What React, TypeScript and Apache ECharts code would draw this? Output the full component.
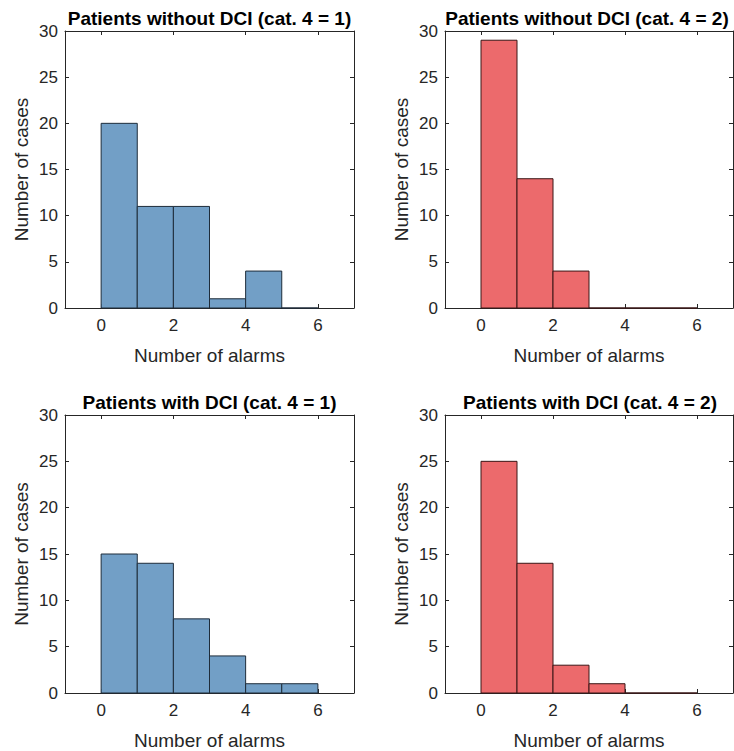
import React, { useEffect, useRef } from "react";
import * as echarts from "echarts";

const binEdges = [0, 1, 2, 3, 4, 5, 6];
const withoutDci1 = [20, 11, 11, 1, 4, 0];
const withoutDci2 = [29, 14, 4, 0, 0, 0];
const withDci1 = [15, 14, 8, 4, 1, 1];
const withDci2 = [25, 14, 3, 1, 0, 0];
const xTickValues = [0, 2, 4, 6];
const panelTitles = [
  "Patients without DCI (cat. 4 = 1)",
  "Patients without DCI (cat. 4 = 2)",
  "Patients with DCI (cat. 4 = 1)",
  "Patients with DCI (cat. 4 = 2)",
];
const xLabel = "Number of alarms";
const yLabel = "Number of cases";

const BLUE = "#729fc6";
const RED = "#ec6a6c";
const AXIS = "#262626";
const FONT = "'Liberation Sans', Arial, Helvetica, sans-serif";

const panels = [
  { counts: withoutDci1, color: BLUE, edge: "#1e2c3a", titleShift: 0, grid: { left: 65, top: 31, width: 289, height: 277 } },
  { counts: withoutDci2, color: RED, edge: "#3a1616", titleShift: -2, grid: { left: 445, top: 31, width: 288, height: 277 } },
  { counts: withDci1, color: BLUE, edge: "#1e2c3a", titleShift: 0, grid: { left: 65, top: 415, width: 289, height: 279 } },
  { counts: withDci2, color: RED, edge: "#3a1616", titleShift: 1, grid: { left: 445, top: 415, width: 288, height: 279 } },
];

export default function App() {
  const ref = useRef<HTMLDivElement>(null);
  useEffect(() => {
    if (!ref.current) return;
    const chart = echarts.init(ref.current, undefined, { renderer: "svg" });
    const grids: any[] = [];
    const xAxes: any[] = [];
    const yAxes: any[] = [];
    const series: any[] = [];
    const titles: any[] = [];
    panels.forEach((p, i) => {
      grids.push({ ...p.grid, show: false });
      const cx = p.grid.left + p.grid.width / 2 + p.titleShift;
      titles.push({
        text: panelTitles[i],
        left: cx,
        textAlign: "center",
        top: i < 2 ? 9 : 393,
        padding: 0,
        textStyle: { fontSize: 19, fontWeight: "bold", color: "#000", fontFamily: FONT },
      });
      const tickStyle = { show: true, inside: true, length: 4, lineStyle: { color: AXIS, width: 1 } };
      xAxes.push({
        type: "value",
        gridIndex: i,
        position: "bottom",
        min: -1,
        max: 7,
        axisLine: { show: true, onZero: false, lineStyle: { color: AXIS, width: 1 } },
        axisTick: { ...tickStyle, customValues: xTickValues },
        axisLabel: { customValues: xTickValues, fontSize: 17, color: AXIS, margin: 9, fontFamily: FONT },
        splitLine: { show: false },
        name: xLabel,
        nameLocation: "middle",
        nameGap: 38,
        nameTextStyle: { fontSize: 19, color: AXIS, fontFamily: FONT },
      });
      xAxes.push({
        type: "value",
        gridIndex: i,
        position: "top",
        min: -1,
        max: 7,
        axisLine: { show: true, onZero: false, lineStyle: { color: AXIS, width: 1 } },
        axisTick: { ...tickStyle, customValues: xTickValues },
        axisLabel: { show: false },
        splitLine: { show: false },
      });
      yAxes.push({
        type: "value",
        gridIndex: i,
        position: "left",
        min: 0,
        max: 30,
        interval: 5,
        axisLine: { show: true, onZero: false, lineStyle: { color: AXIS, width: 1 } },
        axisTick: tickStyle,
        axisLabel: { fontSize: 17, color: AXIS, margin: 7, fontFamily: FONT },
        splitLine: { show: false },
        name: yLabel,
        nameLocation: "middle",
        nameGap: 34,
        nameTextStyle: { fontSize: 19, color: AXIS, fontFamily: FONT },
      });
      yAxes.push({
        type: "value",
        gridIndex: i,
        position: "right",
        min: 0,
        max: 30,
        interval: 5,
        axisLine: { show: true, onZero: false, lineStyle: { color: AXIS, width: 1 } },
        axisTick: tickStyle,
        axisLabel: { show: false },
        splitLine: { show: false },
      });
      const data = p.counts.map((c, k) => [binEdges[k], binEdges[k + 1], c]);
      series.push({
        type: "custom",
        xAxisIndex: i * 2,
        yAxisIndex: i * 2,
        data,
        encode: { x: [0, 1], y: 2 },
        renderItem: (_params: any, api: any) => {
          const x0 = api.value(0);
          const x1 = api.value(1);
          const y = api.value(2);
          const a = api.coord([x0, y]);
          const b = api.coord([x1, 0]);
          return {
            type: "rect",
            shape: { x: a[0], y: a[1], width: b[0] - a[0], height: b[1] - a[1] },
            style: { fill: p.color, stroke: p.edge, lineWidth: 1 },
          };
        },
      });
    });
    chart.setOption({
      animation: false,
      backgroundColor: "#fff",
      textStyle: { fontFamily: FONT },
      title: titles,
      grid: grids,
      xAxis: xAxes,
      yAxis: yAxes,
      series,
    });
    return () => chart.dispose();
  }, []);
  return (
    <div
      ref={ref}
      style={{ position: "absolute", left: 0, top: 0, width: 734, height: 751, background: "#fff" }}
    />
  );
}
